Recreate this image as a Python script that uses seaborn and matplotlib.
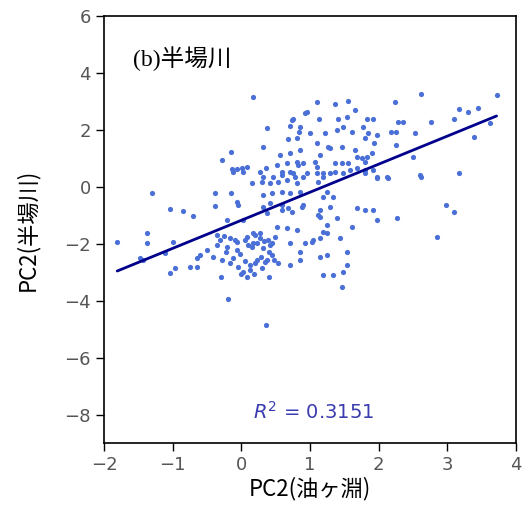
import numpy as np
import pandas as pd
import seaborn as sns
import matplotlib
matplotlib.use("Agg")
import matplotlib.pyplot as plt

# PC2 scores: x = 油ヶ淵, y = 半場川
x_vals = [
    0.17, 1.10, 1.36, 1.55, 1.66, 2.24, 2.62, 3.72, 3.17, 3.30, 3.45, 3.10, 3.62,
    2.28, 2.35, 2.76, 2.53, 3.39, 2.18, 2.25, 2.25, 2.50, 2.60, 3.17,
    0.75, 0.93, 0.71, 0.85, 1.13, 1.41, 1.54, 1.83, 1.92, 0.37, 0.84, 1.00, 1.22,
    1.39, 1.48, 1.61, 1.77, 1.84, 1.98, 1.93, 1.80, 0.68, 0.81, 1.10, 1.26, 1.47,
    0.32, -0.15, -0.28, 0.56, 0.71, 0.85, 1.15, 1.66, 1.68, 1.83, 1.90, 1.36, 1.47,
    1.55, 1.76, 0.66, 0.52, 0.81, 0.90, 1.10, -0.14, -0.06, 0.01, 0.08, 0.36, 0.59,
    0.75, 0.96, 1.19, 1.36, 1.48, 1.58, 1.68, 1.80, 1.92, 1.98, 2.12,
    -0.12, 0.02, 0.32, 0.46, 0.59, 0.71, 0.78, 0.90, 1.10, 1.19, 1.29, 1.80, 1.98,
    2.14, 2.62, 0.16, 0.30, 0.42, 0.53, 0.66, 0.81, 1.12, -1.30, -0.38, -0.15, 0.32,
    0.45, 0.59, 0.71, 0.85, 1.25, 1.33, 1.19, -0.06, -0.38, -1.04, -0.85, -0.70,
    0.42, 0.32, -0.05, 0.68, 0.59, 0.74, 0.88, 1.15, 1.29, 1.68, 1.80, 1.92, 1.98,
    2.27, 2.98, 3.10, 2.85, -0.21, 0.02, 0.37, 1.15, 1.39, 1.25, 1.61, 0.52, 0.66,
    0.81, 1.19, 1.25, -1.37, -1.81, -1.37, -1.00, -1.11, -1.48, -1.43,
    -0.35, -0.31, -0.17, -0.06, 0.08, 0.17, 0.27, 0.39, 0.49, 0.45, 0.23, 0.10,
    0.32, -0.06, -0.21, -0.35, -0.50, -0.60, -0.65, -0.41, -0.28, -0.17, -0.05,
    0.02, 0.08, 0.13, 0.20, 0.23, 0.37, 0.45, 0.53, 0.71, 0.71, 0.85, 0.85, 1.04,
    1.15, 1.44, 1.15, 1.25, 1.54, 1.54, 1.48, 1.19, 1.33, 1.47, -0.19, 0.36, 0.40,
    -0.30, -0.75, -0.65, -1.04, -0.97,
    0.96, 0.74, 1.07, 0.83, 0.27, 1.80, 1.29,
    0.59, 0.90, 1.12, 0.27, 0.17, 0.34, 0.93, 1.03,
    -0.25, -0.10, 0.05, 0.20, 0.33, 0.42, 0.15, -0.02, 0.05, 0.12, 0.28, 0.40,
    -0.12, -0.22, 0.18, 0.30, 0.48, 0.00,
]
y_vals = [
    3.16, 2.98, 2.91, 3.02, 2.70, 2.98, 3.26, 3.23, 2.74, 2.63, 2.77, 2.39, 2.25,
    2.28, 2.28, 2.28, 1.89, 1.75, 1.93, 1.93, 1.47, 1.05, 0.42, 0.49,
    2.39, 2.60, 2.14, 2.11, 2.39, 2.39, 2.46, 2.39, 2.39, 2.07, 1.93, 1.89, 1.89,
    2.00, 2.11, 1.93, 2.11, 1.89, 1.82, 1.54, 1.72, 1.68, 1.72, 1.54, 1.40, 1.40,
    1.40, 1.23, 0.95, 1.12, 1.19, 1.30, 1.12, 1.30, 1.05, 1.05, 1.19, 0.84, 0.84,
    0.84, 1.02, 0.84, 0.77, 0.88, 0.84, 0.70, 0.63, 0.63, 0.67, 0.70, 0.67, 0.53,
    0.49, 0.49, 0.49, 0.53, 0.49, 0.60, 0.67, 0.60, 0.60, 0.35, 0.35,
    0.53, 0.53, 0.35, 0.35, 0.42, 0.53, 0.35, 0.35, 0.49, 0.35, 0.49, 0.49, 0.32,
    0.32, 0.35, 0.14, 0.18, 0.14, 0.18, 0.25, 0.14, 0.18, -0.21, -0.21, -0.21, -0.28,
    -0.21, -0.18, -0.21, -0.18, -0.18, -0.35, -0.35, -0.53, -0.67, -0.77, -0.84, -1.02,
    -0.56, -0.70, -0.63, -0.74, -0.81, -0.88, -0.70, -0.81, -0.70, -0.74, -0.81, -0.81, -1.16,
    -1.09, -0.63, -0.88, -1.75, -1.16, -1.16, -0.91, -1.05, -1.09, -1.33, -1.40, -1.40, -1.44,
    -1.51, -1.58, -1.61, -1.61, -1.93, -1.96, -1.93, -2.32, -2.49, -2.56,
    -1.68, -1.86, -1.79, -1.93, -1.75, -1.61, -1.79, -1.86, -1.75, -1.96, -1.96, -2.04,
    -2.14, -2.21, -2.11, -2.04, -2.21, -2.39, -2.49, -2.46, -2.56, -2.67, -2.81,
    -2.98, -3.16, -2.91, -2.67, -2.56, -2.56, -2.39, -2.67, -2.74, -1.96, -2.28, -2.56, -1.86,
    -1.79, -1.79, -2.46, -2.39, -2.28, -2.74, -2.98, -3.09, -3.09, -3.51, -3.93, -4.84, -3.16,
    -3.16, -2.81, -2.81, -3.02, -2.84,
    2.63, 2.35, 0.88, 0.77, 0.53, 0.88, 1.37,
    -0.63, -0.63, -0.98, -1.61, -1.96, -2.63, -1.96, -1.93,
    -1.72, -1.85, -1.88, -1.70, -1.90, -2.05, -2.10, -2.35, -2.60, -2.75, -2.45, -2.30,
    -2.50, -2.30, -3.05, -2.85, -2.55, -3.05,
]

x_ticks = [-2, -1, 0, 1, 2, 3, 4]
y_ticks = [-8, -6, -4, -2, 0, 2, 4, 6]
r2_label = "$R^2$ = 0.3151"
panel_title = "(b)半場川"
x_label = "PC2(油ヶ淵)"
y_label = "PC2(半場川)"

df = pd.DataFrame({"x": x_vals, "y": y_vals})

sns.set_theme(style="ticks")
plt.rcParams["font.family"] = ["DejaVu Sans", "Noto Sans CJK JP"]

fig = plt.figure(figsize=(5.29, 5.22), dpi=100)
ax = fig.add_axes([0.197, 0.151, 0.778, 0.818])

sns.regplot(data=df, x="x", y="y", ci=None, ax=ax,
            scatter_kws=dict(s=14, color="#4a6fd6", linewidths=0, alpha=1),
            line_kws=dict(color="#00008b", lw=2))

ax.set_xlim(-2, 4)
ax.set_ylim(-9, 6)
ax.set_xticks(x_ticks)
ax.set_yticks(y_ticks)
ax.tick_params(axis="both", direction="out", length=6, width=1, color="black",
               labelsize=13, labelcolor="#555555")
for s in ax.spines.values():
    s.set_visible(True)
    s.set_color("black")
    s.set_linewidth(1.2)

ax.set_xlabel(x_label, fontsize=16, family=["Noto Sans CJK JP"], color="black", labelpad=2)
ax.set_ylabel(y_label, fontsize=16, family=["Noto Sans CJK JP"], color="black", labelpad=18)

ax.text(-1.58, 4.5, panel_title, fontsize=17, family=["Liberation Serif", "Noto Sans CJK JP"],
        color="black", ha="left", va="center")
ax.text(1.06, -7.9, r2_label, fontsize=14, color="#3b3bb0", ha="center", va="center")

fig.savefig("out.png", dpi=100)
